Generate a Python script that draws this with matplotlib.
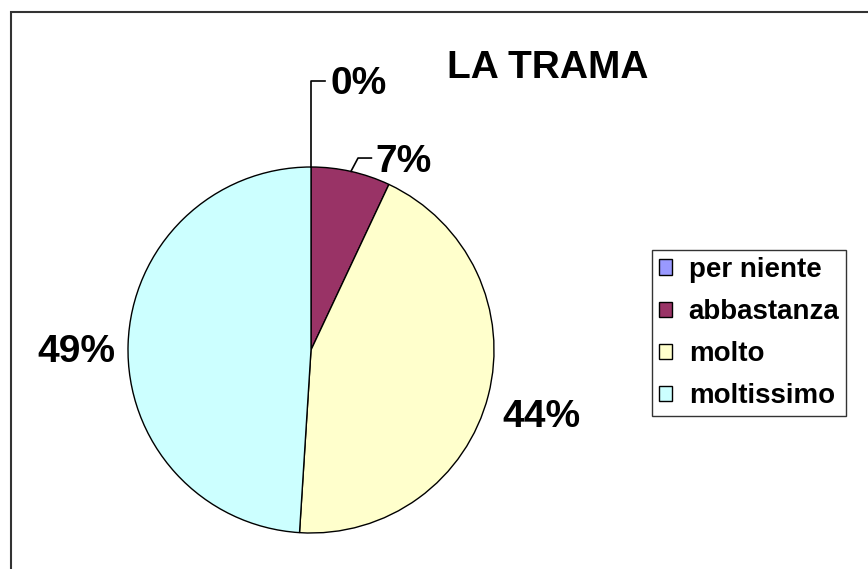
import matplotlib
matplotlib.use("Agg")
import matplotlib.pyplot as plt
import matplotlib.patches as mpatches
import numpy as np

plt.rcParams['font.family'] = ['Liberation Sans', 'DejaVu Sans']
plt.rcParams['font.weight'] = 'bold'

title = "LA TRAMA"
categories = ["per niente", "abbastanza", "molto", "moltissimo"]
values = [0, 7, 44, 49]
labels = ["0%", "7%", "44%", "49%"]
colors = ["#9999FF", "#993366", "#FFFFCC", "#CCFFFF"]

W, H = 868, 569
fig = plt.figure(figsize=(W / 100, H / 100), dpi=100)

cx, cy, r = 311, 350, 183
ax = fig.add_axes([(cx - r) / W, (H - cy - r) / H, 2 * r / W, 2 * r / H])
wedges, _ = ax.pie(values, colors=colors, startangle=90, counterclock=False,
                   wedgeprops=dict(edgecolor="black", linewidth=1.0),
                   radius=1.0)
ax.set_xlim(-1, 1)
ax.set_ylim(-1, 1)
ax.set_aspect('equal')
ax.axis('off')

fs = 28
def mid(w):
    a = np.deg2rad((w.theta1 + w.theta2) / 2)
    return np.cos(a), np.sin(a)

# 0%
x0, y0 = mid(wedges[0])
ax.plot([x0, x0, x0 + 0.075], [y0, 1.47, 1.47], color="black", lw=1.2, clip_on=False)
ax.text(0.104, 1.399, labels[0], fontsize=fs, fontweight='bold', ha='left', va='baseline')
# 7%
x1, y1 = mid(wedges[1])
ax.plot([x1, 0.257, 0.33], [y1, 1.049, 1.049], color="black", lw=1.2, clip_on=False)
ax.text(0.35, 0.973, labels[1], fontsize=fs, fontweight='bold', ha='left', va='baseline')
# 44%
ax.text(1.044, -0.421, labels[2], fontsize=fs, fontweight='bold', ha='left', va='baseline')
# 49%
ax.text(-1.497, -0.066, labels[3], fontsize=fs, fontweight='bold', ha='left', va='baseline')

fig.text(548 / W, 1 - 78 / H, title, fontsize=28, fontweight='bold', ha='center', va='baseline')

handles = [mpatches.Patch(facecolor=c, edgecolor='black', linewidth=1.0) for c in colors]
leg = fig.legend(handles, categories, loc='upper left',
                 bbox_to_anchor=(652 / W, 1 - 250 / H), frameon=True, fancybox=False,
                 handlelength=0.47, handleheight=0.47, handletextpad=0.6,
                 labelspacing=0.58, borderpad=0.25, borderaxespad=0,
                 prop=dict(size=20, weight='bold'))
leg.get_frame().set_edgecolor('black')
leg.get_frame().set_linewidth(1.0)

frame = mpatches.Rectangle((10.5 / W, -0.1), 1.2, 1.1 - 12.5 / H, transform=fig.transFigure,
                           fill=False, edgecolor='#333333', linewidth=1.5)
fig.patches.append(frame)

fig.savefig("out.png", dpi=100)
